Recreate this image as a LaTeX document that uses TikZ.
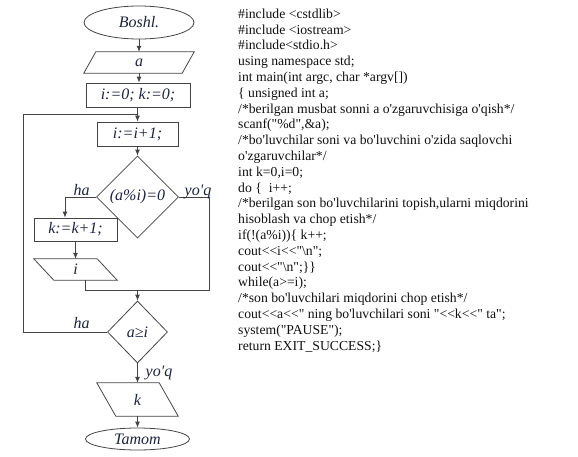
\documentclass[tikz,border=0pt]{standalone}
\usepackage{fontspec}
\setmainfont{Liberation Serif}[Ligatures=TeXOff]
\usetikzlibrary{shapes.geometric,arrows.meta}
\definecolor{linegray}{HTML}{444444}
\definecolor{flowtext}{HTML}{1C2240}
\definecolor{codetext}{HTML}{111111}
\begin{document}
\begin{tikzpicture}[x=1pt,y=-1pt,
  line/.style={draw=linegray,line width=0.8pt},
  arr/.style={line,-{Latex[length=6pt,width=5pt]}},
  ff/.style={font=\fontsize{16}{18}\selectfont\itshape,text=flowtext},
  box/.style={ff,rectangle,line,inner sep=0pt},
  pbox/.style={ff,rectangle,draw=none,inner sep=0pt},
  term/.style={ff,ellipse,line,inner sep=0pt},
  dec/.style={ff,diamond,line,inner sep=0pt},
  lab/.style={ff,anchor=base,inner sep=0pt}]
\useasboundingbox (0,0) rectangle (578,456);

% nodes
\node[term,minimum width=110pt,minimum height=33pt] (start) at (139,22.5) {Boshl.};
\node[pbox,minimum width=110pt,minimum height=21pt] (pa) at (139,62.5) {a};
\node[box,minimum width=104pt,minimum height=24pt] (init) at (138,95) {i:=0; k:=0;};
\node[box,minimum width=81pt,minimum height=24pt] (inc) at (137.5,134) {i:=i+1;};
\node[dec,minimum width=82pt,minimum height=82pt] (d1) at (137.5,197) {(a\%i)=0};
\node[box,minimum width=83pt,minimum height=23pt] (kinc) at (75.5,229.5) {k:=k+1;};
\node[pbox,minimum width=83pt,minimum height=21pt] (pi) at (75.5,269.5) {i};
\node[dec,minimum width=60pt,minimum height=62pt] (d2) at (137.5,332) {a≥i};
\node[pbox,minimum width=81pt,minimum height=33pt] (pk) at (137.5,399.5) {k};
\node[term,minimum width=104pt,minimum height=22pt] (end) at (137.5,439) {Tamom};

% parallelograms
\draw[line] ([xshift=12pt]pa.north west) -- (pa.north east) -- ([xshift=-12pt]pa.south east) -- (pa.south west) -- cycle;
\draw[line] (pi.north west) -- ([xshift=-20pt]pi.north east) -- (pi.south east) -- ([xshift=20pt]pi.south west) -- cycle;
\draw[line] (pk.north west) -- ([xshift=-19pt]pk.north east) -- (pk.south east) -- ([xshift=19pt]pk.south west) -- cycle;

% coordinates
\coordinate (c1) at (65,197);
\coordinate (r1) at (209,197);
\coordinate (m) at (137.5,290);
\coordinate (c2) at (85,290);
\coordinate (l1) at (23,332);
\coordinate (l2) at (23,114);

% connectors
\draw[arr] (start.south -| pa.north) -- (pa.north);
\draw[arr] (pa.south) -- (init.north -| pa.south);
\draw[arr] (init.south -| inc.north) -- (inc.north);
\draw[arr] (inc.south) -- (d1.north);
\draw[arr] (d1.west) -- (c1) -- (c1 |- kinc.north);
\draw[arr] (kinc.south) -- (pi.north);
\draw[line] (d1.east) -- (r1) -- (r1 |- m) -- (c2) -- (c2 |- pi.south);
\draw[arr] (m) -- (d2.north);
\draw[line] (d2.west) -- (l1) -- (l2) -- (l2 -| inc.north);
\draw[arr] (d2.south) -- (pk.north);
\draw[arr] (pk.south) -- (end.north);

% labels
\node[lab] (ha1) at (81.5,195) {ha};
\node[lab] (yoq1) at (198,195) {yo'q};
\node[lab] (ha2) at (81.5,328) {ha};
\node[lab] (yoq2) at (159,376) {yo'q};

% code
\node[anchor=north west,inner sep=0pt,align=left,text=codetext,
  font=\fontsize{13.7}{15.8}\selectfont] (code) at (238,8.5) {%
\#include <cstdlib>\\
\#include <iostream>\\
\#include<stdio.h>\\
using namespace std;\\
int main(int argc, char *argv[])\\
\{ unsigned int a;\\
/*berilgan musbat sonni a o'zgaruvchisiga o'qish*/\\
scanf("\%d",\&a);\\
/*bo'luvchilar soni va bo'luvchini o'zida saqlovchi\\
o'zgaruvchilar*/\\
int k=0,i=0;\\
do \{\ \ i++;\\
/*berilgan son bo'luvchilarini topish,ularni miqdorini\\
hisoblash va chop etish*/\\
if(!(a\%i))\{ k++;\\
cout<<i<<"\textbackslash n";\\
cout<<"\textbackslash n";\}\}\\
while(a>=i);\\
/*son bo'luvchilari miqdorini chop etish*/\\
cout<<a<<" ning bo'luvchilari soni "<<k<<" ta";\\
system("PAUSE");\\
return EXIT\_SUCCESS;\}};
\end{tikzpicture}
\end{document}
